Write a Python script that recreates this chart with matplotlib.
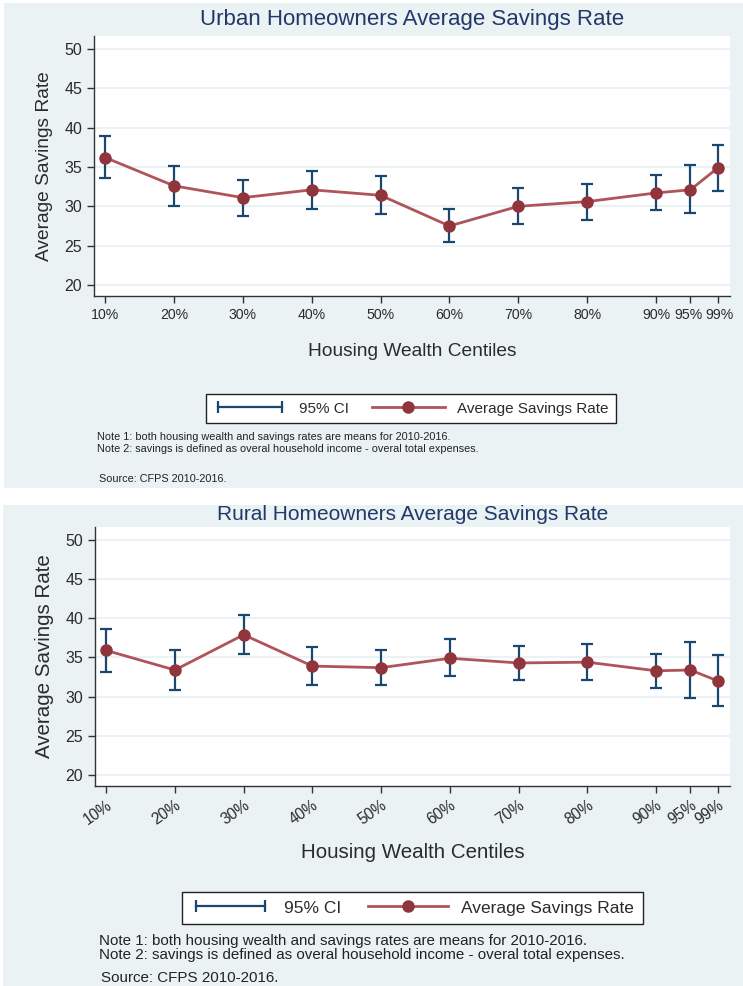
import matplotlib
matplotlib.use("Agg")
import matplotlib.pyplot as plt
import matplotlib.transforms as mtransforms
from matplotlib.patches import Rectangle
from matplotlib.lines import Line2D
from matplotlib.legend_handler import HandlerLine2D
from matplotlib import font_manager

# ---------------- data ----------------
centiles = [10, 20, 30, 40, 50, 60, 70, 80, 90, 95, 99]
tick_labels = ["10%", "20%", "30%", "40%", "50%", "60%", "70%", "80%", "90%", "95%", "99%"]

urban_mean = [36.2, 32.6, 31.1, 32.1, 31.4, 27.5, 30.0, 30.6, 31.7, 32.1, 34.9]
urban_lo   = [33.6, 30.0, 28.8, 29.7, 29.0, 25.5, 27.7, 28.3, 29.5, 29.2, 32.0]
urban_hi   = [38.9, 35.1, 33.4, 34.5, 33.8, 29.6, 32.3, 32.9, 34.0, 35.2, 37.8]

rural_mean = [35.9, 33.4, 37.9, 33.9, 33.7, 34.9, 34.3, 34.4, 33.3, 33.4, 32.0]
rural_lo   = [33.2, 30.9, 35.5, 31.5, 31.5, 32.6, 32.1, 32.1, 31.1, 29.8, 28.8]
rural_hi   = [38.6, 36.0, 40.4, 36.3, 35.9, 37.3, 36.5, 36.7, 35.5, 37.0, 35.3]

yticks = [20, 25, 30, 35, 40, 45, 50]

titles = ["Urban Homeowners Average Savings Rate", "Rural Homeowners Average Savings Rate"]
ylabel = "Average Savings Rate"
xlabel = "Housing Wealth Centiles"
notes = ["Note 1: both housing wealth and savings rates are means for 2010-2016.",
         "Note 2: savings is defined as overal household income - overal total expenses."]
source = "Source: CFPS 2010-2016."

# ---------------- style ----------------
names = {f.name for f in font_manager.fontManager.ttflist}
FONT = "Liberation Sans Narrow" if "Liberation Sans Narrow" in names else "Liberation Sans"
plt.rcParams["font.family"] = [FONT, "DejaVu Sans"]

BG = "#eaf2f3"
NAVY = "#1a476f"
MAROON = "#90353b"
LINE = "#b0545b"
TITLE = "#22386a"
TXT = "#2b2b2b"

W, H = 743, 986
fig = plt.figure(figsize=(W / 100, H / 100), dpi=100)

def px(x0, y0, x1, y1):
    return [x0 / W, 1 - y1 / H, (x1 - x0) / W, (y1 - y0) / H]

# panel backgrounds
for (x0, y0, x1, y1) in [(4, 3, 743, 488), (3, 505, 743, 986)]:
    fig.patches.append(Rectangle((x0 / W, 1 - y1 / H), (x1 - x0) / W, (y1 - y0) / H,
                                 transform=fig.transFigure, facecolor=BG, edgecolor="none", zorder=-10))

panels = [
    dict(ax=(94, 36, 730, 296), mean=urban_mean, lo=urban_lo, hi=urban_hi, title=titles[0],
         title_y=19, rot=0, xl_y=352, fs_tick=11.5, fs_xtick=10.2, fs_lab=13.8, fs_title=16,
         leg=(205, 391, 617, 426), fs_leg=11, hl=4.8, note_x=97, note_y=[437, 449], src_y=479, fs_note=7.8),
    dict(ax=(95, 527, 730, 786), mean=rural_mean, lo=rural_lo, hi=rural_hi, title=titles[1],
         title_y=514, rot=35, xl_y=852, fs_tick=11.5, fs_xtick=11.2, fs_lab=14.8, fs_title=15,
         leg=(180, 891, 645, 925), fs_leg=12.5, hl=4.6, note_x=99, note_y=[941, 955], src_y=978, fs_note=10.9),
]

for p in panels:
    x0, y0, x1, y1 = p["ax"]
    ax = fig.add_axes(px(x0, y0, x1, y1))
    ax.set_facecolor("white")
    ax.set_xlim(8.37, 100.75)
    ax.set_ylim(18.6, 51.65)
    for s in ["top", "right"]:
        ax.spines[s].set_visible(False)
    for s in ["left", "bottom"]:
        ax.spines[s].set_color("#333333")
        ax.spines[s].set_linewidth(1.0)
    ax.set_yticks(yticks)
    ax.set_xticks(centiles)
    ax.tick_params(axis="both", colors="#333333", length=5, width=1.0, labelcolor=TXT,
                   labelsize=p["fs_tick"])
    if p["rot"]:
        ax.set_xticklabels(tick_labels, rotation=p["rot"], ha="right", rotation_mode="anchor",
                           fontsize=p["fs_xtick"])
    else:
        labs = ax.set_xticklabels(tick_labels, fontsize=p["fs_xtick"])
        # nudge the two crowded top-end labels apart slightly
        labs[-2].set_transform(labs[-2].get_transform() +
                               mtransforms.ScaledTranslation(-2 / 100, 0, fig.dpi_scale_trans))
        labs[-1].set_transform(labs[-1].get_transform() +
                               mtransforms.ScaledTranslation(2 / 100, 0, fig.dpi_scale_trans))
    ax.grid(axis="y", color=BG, linewidth=1.5)
    ax.set_axisbelow(True)
    ax.set_ylabel(ylabel, fontsize=p["fs_lab"], color=TXT, labelpad=8)

    yerr = [[m - l for m, l in zip(p["mean"], p["lo"])], [h - m for m, h in zip(p["mean"], p["hi"])]]
    ax.errorbar(centiles, p["mean"], yerr=yerr, fmt="none", ecolor=NAVY, elinewidth=1.6,
                capsize=4.5, capthick=1.6, zorder=3)
    ax.plot(centiles, p["mean"], color=LINE, lw=2.0, zorder=4)
    ax.plot(centiles, p["mean"], "o", color=MAROON, ms=8, zorder=5)

    # title
    fig.text(((x0 + x1) / 2) / W, 1 - p["title_y"] / H, p["title"], ha="center", va="center",
             fontsize=p["fs_title"], color=TITLE)
    # x label
    fig.text(((x0 + x1) / 2) / W, 1 - p["xl_y"] / H, xlabel, ha="center", va="center",
             fontsize=p["fs_lab"], color=TXT)

    # legend
    lx0, ly0, lx1, ly1 = p["leg"]
    h_ci = Line2D([], [], color=NAVY, lw=1.6, marker="|", ms=8, mew=1.6)
    h_avg = Line2D([], [], color=LINE, lw=2.0, marker="o", ms=8, mfc=MAROON, mec=MAROON)
    leg = fig.legend([h_ci, h_avg], ["95% CI", "Average Savings Rate"],
                     handler_map={h_ci: HandlerLine2D(numpoints=2), h_avg: HandlerLine2D(numpoints=1)},
                     loc="center", bbox_to_anchor=((lx0 + lx1) / 2 / W, 1 - (ly0 + ly1) / 2 / H),
                     ncol=2, frameon=True, fancybox=False, edgecolor="#222222", facecolor="white",
                     fontsize=p["fs_leg"], handlelength=p["hl"], columnspacing=1.5, handletextpad=0.8,
                     borderpad=0.5, framealpha=1)
    leg.get_frame().set_linewidth(1.0)
    for t in leg.get_texts():
        t.set_color(TXT)

    # notes
    for ny, n in zip(p["note_y"], notes):
        fig.text(p["note_x"] / W, 1 - ny / H, n, ha="left", va="center", fontsize=p["fs_note"], color="#222222")
    fig.text((p["note_x"] + 2) / W, 1 - p["src_y"] / H, source, ha="left", va="center",
             fontsize=p["fs_note"], color="#222222")

fig.savefig("out.png", dpi=100, facecolor="white")
